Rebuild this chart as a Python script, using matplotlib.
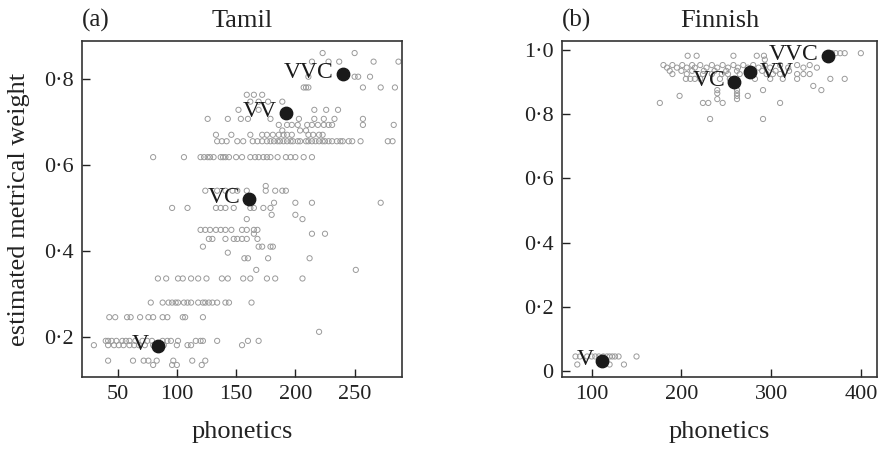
import matplotlib
matplotlib.use('Agg')
import matplotlib.pyplot as plt
from matplotlib.ticker import FuncFormatter

plt.rcParams['font.family'] = ['Liberation Serif', 'DejaVu Serif']

# ---- Tamil: gray points, grouped by rows of (nearly) equal weight ----
ta_levels = [0.135, 0.145, 0.181, 0.191, 0.212, 0.246, 0.280, 0.336, 0.356,
             0.383, 0.396, 0.410, 0.428, 0.440, 0.449, 0.474, 0.484, 0.500,
             0.512, 0.540, 0.551, 0.618, 0.655, 0.670, 0.680, 0.693, 0.707,
             0.728, 0.747, 0.763, 0.780, 0.805, 0.840, 0.860]
ta_rows = [
    [80, 96, 100, 121],
    [42, 63, 72, 76, 83, 97, 113, 124],
    [30, 42, 47, 51, 55, 60, 64, 68, 73, 80, 89, 100, 109, 112, 155],
    [40, 42, 45, 49, 54, 57, 60, 65, 71, 75, 79, 88, 92, 95, 101, 116, 120,
     122, 134, 160, 169],
    [220],
    [43, 48, 58, 61, 69, 76, 80, 88, 92, 105, 107, 122],
    [78, 88, 93, 96, 99, 101, 106, 109, 112, 118, 122, 124, 127, 130, 134,
     141, 144, 163],
    [84, 91, 101, 105, 112, 118, 125, 138, 143, 156, 162, 176, 183, 206],
    [167, 251],
    [157, 160, 177, 212],
    [143],
    [122, 169, 172, 179, 181],
    [127, 130, 141, 148, 151, 155, 159, 168],
    [165, 214, 225],
    [120, 124, 128, 133, 137, 141, 146, 155, 159, 165, 168],
    [159, 206],
    [180, 200],
    [96, 109, 133, 137, 141, 148, 162, 165, 173, 179],
    [182, 200, 214, 272],
    [124, 134, 141, 147, 151, 159, 175, 183, 189, 192],
    [175],
    [80, 106, 120, 123, 126, 128, 131, 137, 139, 141, 144, 150, 155, 162, 166,
     169, 173, 176, 179, 185, 192, 196, 200, 207, 214],
    [134, 138, 142, 151, 156, 164, 168, 172, 176, 179, 182, 185, 187, 190, 193,
     196, 198, 202, 204, 209, 211, 214, 217, 220, 223, 225, 228, 231, 235, 238,
     240, 245, 248, 255, 278, 282],
    [133, 146, 162, 172, 176, 181, 186, 190, 193, 197, 211, 215, 220, 223],
    [189, 204, 209],
    [186, 193, 197, 202, 210, 214, 219, 224, 228, 231, 257, 283],
    [126, 143, 154, 160, 179, 203, 216, 224, 233, 257],
    [152, 169, 216, 226, 236],
    [162, 169, 177, 189],
    [159, 165, 172],
    [207, 209, 211, 257, 272, 284],
    [211, 250, 253, 263],
    [214, 228, 237, 266, 287],
    [223, 250],
]
ta_labels = ['V', 'VC', 'VV', 'VVC']
ta_mean_x = [84, 161, 192, 240]
ta_mean_y = [0.180, 0.521, 0.721, 0.812]

# ---- Finnish ----
fi_levels = [0.020, 0.045, 0.785, 0.835, 0.847, 0.857, 0.865, 0.875, 0.888,
             0.910, 0.925, 0.935, 0.945, 0.953, 0.970, 0.982, 0.990]
fi_rows = [
    [84, 113, 120, 136],
    [82, 87, 95, 100, 104, 108, 113, 117, 120, 123, 126, 130, 150],
    [232, 291],
    [176, 224, 230, 246, 310],
    [240, 262],
    [198, 262, 274],
    [240, 262],
    [240, 262, 291, 356],
    [347],
    [205, 210, 215, 221, 243, 254, 282, 299, 313, 329, 366, 382],
    [190, 206, 224, 234, 245, 252, 265, 280, 295, 302, 310, 329, 336, 343],
    [187, 200, 212, 225, 237, 250, 262, 275, 290, 305, 320],
    [184, 195, 206, 215, 228, 240, 252, 263, 274, 286, 299, 319, 336, 351],
    [180, 190, 201, 212, 221, 234, 246, 258, 269, 280, 293, 310, 329, 343],
    [293],
    [207, 217, 258, 284, 292],
    [368, 372, 377, 382, 400],
]
fi_labels = ['V', 'VC', 'VV', 'VVC']
fi_mean_x = [112, 259, 277, 363]
fi_mean_y = [0.031, 0.900, 0.930, 0.981]


def flatten(levels, rows):
    xs, ys = [], []
    for lev, row in zip(levels, rows):
        xs += row
        ys += [lev] * len(row)
    return xs, ys


def dotfmt(v, pos):
    if abs(v) < 1e-9:
        return '0'
    return ('%.1f' % v).replace('.', '\u00b7')


def panel(ax, levels, rows, mx, my, labels, label_side):
    xs, ys = flatten(levels, rows)
    ax.scatter(xs, ys, s=14, facecolors='none', edgecolors='#9a9a9a',
               linewidths=0.7, zorder=2)
    ax.scatter(mx, my, s=80, color='#1a1a1a', zorder=3)
    for x, y, lab, side in zip(mx, my, labels, label_side):
        if side == 'left':
            ax.annotate(lab, (x, y), xytext=(-6.5, 1), textcoords='offset points',
                        ha='right', va='center', fontsize=17, color='#1a1a1a')
        else:
            ax.annotate(lab, (x, y), xytext=(6.5, 0), textcoords='offset points',
                        ha='left', va='center', fontsize=17, color='#1a1a1a')
    ax.yaxis.set_major_formatter(FuncFormatter(dotfmt))
    ax.tick_params(direction='in', length=6, width=1, labelsize=16,
                   colors='#222222', pad=6)
    for sp in ax.spines.values():
        sp.set_linewidth(1.2)
        sp.set_color('#333333')
    ax.set_xlabel('phonetics', fontsize=19, labelpad=12, color='#222222')


fig = plt.figure(figsize=(8.83, 4.5), dpi=100)
ax1 = fig.add_axes([0.0929, 0.1622, 0.3624, 0.7467])
ax2 = fig.add_axes([0.6365, 0.1622, 0.3567, 0.7467])

panel(ax1, ta_levels, ta_rows, ta_mean_x, ta_mean_y, ta_labels,
      ['left', 'left', 'left', 'left'])
ax1.set_xlim(20, 290)
ax1.set_ylim(0.107, 0.888)
ax1.set_xticks([50, 100, 150, 200, 250])
ax1.set_yticks([0.2, 0.4, 0.6, 0.8])
ax1.set_ylabel('estimated metrical weight', fontsize=19, labelpad=10,
               color='#222222')
ax1.set_title('Tamil', fontsize=19, pad=10, color='#222222')
ax1.text(0.0, 1.042, '(a)', transform=ax1.transAxes, fontsize=18,
         ha='left', va='baseline', color='#222222')

panel(ax2, fi_levels, fi_rows, fi_mean_x, fi_mean_y, fi_labels,
      ['left', 'left', 'right', 'left'])
ax2.set_xlim(67, 418)
ax2.set_ylim(-0.019, 1.028)
ax2.set_xticks([100, 200, 300, 400])
ax2.set_yticks([0, 0.2, 0.4, 0.6, 0.8, 1.0])
ax2.set_title('Finnish', fontsize=19, pad=10, color='#222222')
ax2.text(0.0, 1.042, '(b)', transform=ax2.transAxes, fontsize=18,
         ha='left', va='baseline', color='#222222')

fig.savefig('out.png', dpi=100)
